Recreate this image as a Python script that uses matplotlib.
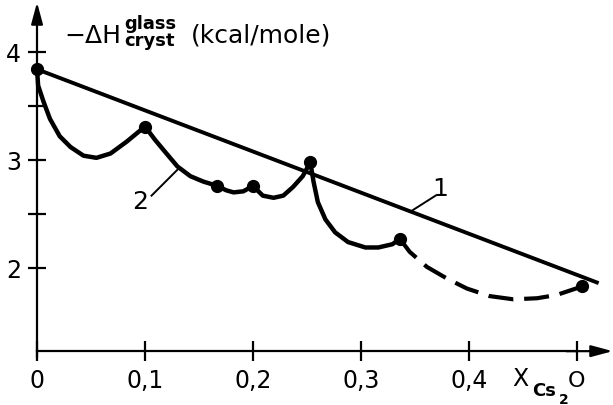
import matplotlib
matplotlib.use("Agg")
import matplotlib.pyplot as plt

# ── Data ─────────────────────────────────────────────────────────────────────
# curve 1 : straight line between the end members
line1_x = [0.0, 0.52]
line1_y = [3.84, 1.86]

# measured compositions (dots)
dots_x = [0.0, 0.100, 0.167, 0.200, 0.253, 0.336, 0.505]
dots_y = [3.84, 3.31, 2.76, 2.76, 2.98, 2.27, 1.83]

# curve 2 : solid part, traced
curve2_x = [0.000, 0.001, 0.006, 0.012, 0.021, 0.031, 0.043, 0.055, 0.068,
            0.083, 0.100,
            0.109, 0.119, 0.130, 0.142, 0.154, 0.167,
            0.175, 0.182, 0.191, 0.200,
            0.209, 0.219, 0.228, 0.237, 0.246, 0.253,
            0.256, 0.260, 0.267, 0.276, 0.288, 0.304, 0.316, 0.329, 0.336]
curve2_y = [3.84, 3.69, 3.54, 3.38, 3.22, 3.12, 3.04, 3.02, 3.06,
            3.17, 3.31,
            3.19, 3.07, 2.94, 2.85, 2.80, 2.76,
            2.72, 2.70, 2.71, 2.76,
            2.67, 2.65, 2.67, 2.75, 2.85, 2.98,
            2.80, 2.61, 2.45, 2.33, 2.24, 2.19, 2.19, 2.22, 2.27]

# curve 2 : dashed (extrapolated) part
dash_x = [0.336, 0.345, 0.361, 0.380, 0.398, 0.419, 0.441, 0.463, 0.481,
          0.505]
dash_y = [2.27, 2.15, 2.01, 1.90, 1.81, 1.74, 1.71, 1.72, 1.75, 1.83]

x_ticks = [0.0, 0.1, 0.2, 0.3, 0.4, 0.5]
x_labels = ["0", "0,1", "0,2", "0,3", "0,4", ""]
y_ticks = [2.0, 2.5, 3.0, 3.5, 4.0]
y_labels = ["2", "", "3", "", "4"]

X_ORIGIN = 1.23      # y value where the x axis is drawn
W, H = 613, 406

# ── Figure ───────────────────────────────────────────────────────────────────
fig = plt.figure(figsize=(W / 100, H / 100), dpi=100)
ax = fig.add_axes([0, 0, 1, 1])
ax.set_xlim(-0.0343, 0.5333)
ax.set_ylim(0.7315, 4.4907)
ax.patch.set_alpha(0)

for s in ("top", "right"):
    ax.spines[s].set_visible(False)
ax.spines["left"].set_position(("data", 0))
ax.spines["bottom"].set_position(("data", X_ORIGIN))
ax.spines["left"].set_bounds(1.18, 4.30)
ax.spines["bottom"].set_bounds(0, 0.50)
for s in ("left", "bottom"):
    ax.spines[s].set_linewidth(1.6)

# axis arrow heads
arrow = dict(arrowstyle="-|>,head_length=1.3,head_width=0.35",
             color="black", lw=1.6, shrinkA=0, shrinkB=0)
ax.annotate("", xy=(0, 4.46), xytext=(0, 4.25), arrowprops=arrow,
            annotation_clip=False)
ax.annotate("", xy=(0.533, X_ORIGIN), xytext=(0.49, X_ORIGIN),
            arrowprops=arrow, annotation_clip=False)

ax.set_xticks(x_ticks)
ax.set_xticklabels(x_labels, fontsize=17)
ax.set_yticks(y_ticks)
ax.set_yticklabels(y_labels, fontsize=17)
ax.tick_params(axis="x", direction="inout", length=14, width=1.6, pad=5)
ax.tick_params(axis="y", direction="inout", length=13, width=1.6, pad=5)

# ── Curves ───────────────────────────────────────────────────────────────────
ax.plot(line1_x, line1_y, color="black", lw=2.8, solid_capstyle="butt")
ax.plot(curve2_x, curve2_y, color="black", lw=3.2,
        solid_joinstyle="round", solid_capstyle="round")
ax.plot(dash_x, dash_y, color="black", lw=3.0, linestyle=(0, (6, 2.6)))
ax.plot(dots_x, dots_y, "o", color="black", ms=8.5, clip_on=False)

# curve labels with leader lines
ax.text(0.373, 2.74, "1", fontsize=18, ha="center", va="center")
ax.plot([0.369, 0.347], [2.67, 2.53], color="black", lw=1.4)
ax.text(0.095, 2.62, "2", fontsize=18, ha="center", va="center")
ax.plot([0.106, 0.130], [2.67, 2.91], color="black", lw=1.4)

# ── Axis titles ──────────────────────────────────────────────────────────────
def px(x, y):
    return x / W, 1 - y / H

fig.text(*px(64, 43), "\u2212\u0394H", fontsize=18, va="baseline")
fig.text(*px(124, 29), "glass", fontsize=13, fontweight="bold",
         va="baseline")
fig.text(*px(124, 46), "cryst", fontsize=13, fontweight="bold",
         va="baseline")
fig.text(*px(191, 43), "(kcal/mole)", fontsize=18, va="baseline")

fig.text(*px(512, 386), "X", fontsize=17, va="baseline")
fig.text(*px(532, 396), "Cs", fontsize=13, fontweight="bold", va="baseline")
fig.text(*px(559, 404), "2", fontsize=10, fontweight="bold", va="baseline")
fig.text(*px(568, 387), "O", fontsize=16, va="baseline")

plt.savefig("out.png", dpi=100)
